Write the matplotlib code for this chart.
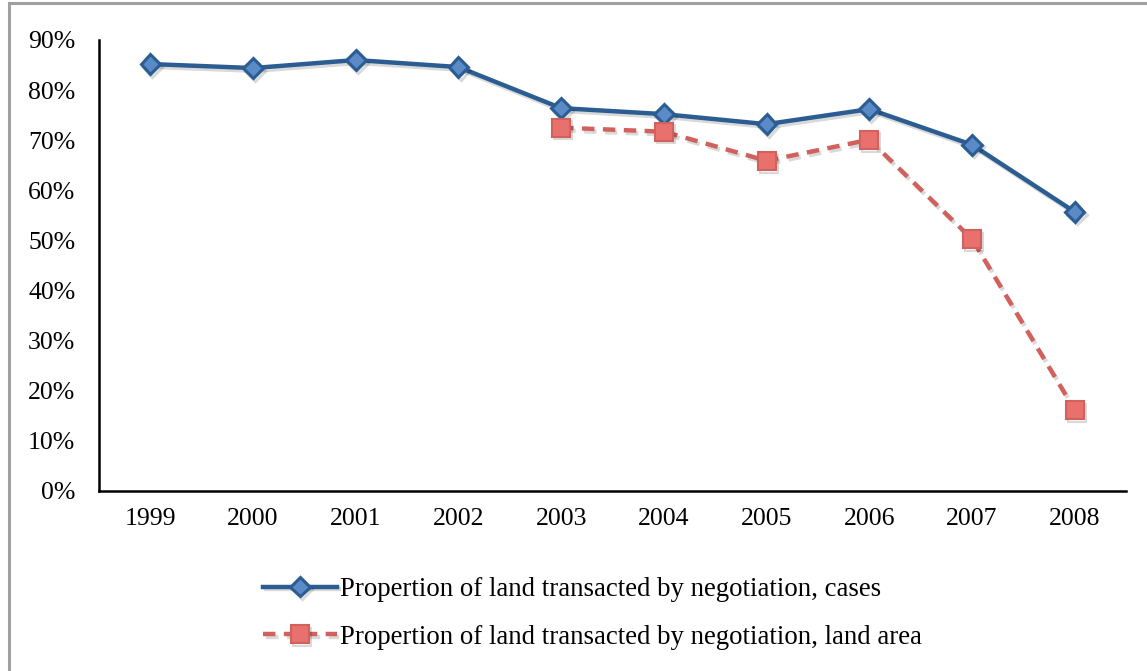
import matplotlib
matplotlib.use("Agg")
import matplotlib.pyplot as plt
import matplotlib.patheffects as pe
from matplotlib.lines import Line2D
from matplotlib.ticker import FuncFormatter

years = ["1999", "2000", "2001", "2002", "2003", "2004", "2005", "2006", "2007", "2008"]
cases = [85.2, 84.4, 86.0, 84.6, 76.4, 75.2, 73.2, 76.2, 69.1, 55.7]
area_years = ["2003", "2004", "2005", "2006", "2007", "2008"]
area = [72.5, 71.7, 65.9, 70.1, 50.3, 16.2]
labels = ["Propertion of land transacted by negotiation, cases",
          "Propertion of land transacted by negotiation, land area"]

plt.rcParams["font.family"] = ["Liberation Serif", "DejaVu Serif"]

fig = plt.figure(figsize=(11.47, 6.71), dpi=100)
ax = fig.add_axes([0.0863, 0.2683, 0.8954, 0.6721])

xi = range(len(years))
ax_idx = [years.index(y) for y in area_years]
shadow = [pe.SimpleLineShadow(offset=(1.5, -2), alpha=0.15, shadow_color="black"), pe.Normal()]

l1, = ax.plot(xi, cases, color="#2B5D93", lw=3.2, marker="D", ms=10,
              mfc="#5B8BC6", mec="#2B5D93", mew=2.2, label=labels[0], path_effects=shadow)
l2, = ax.plot(ax_idx, area, color="#D2605C", lw=3.2, ls=(0, (2.8, 1.9)), marker="s", ms=13,
              mfc="#E8716E", mec="#D2605C", mew=1.5, label=labels[1], path_effects=shadow)

ax.set_xlim(-0.5, len(years) - 0.5)
ax.set_ylim(0, 90)
ax.set_xticks(list(xi))
ax.set_xticklabels(years)
ax.set_yticks(range(0, 91, 10))
ax.yaxis.set_major_formatter(FuncFormatter(lambda v, p: f"{v:.0f}%"))
ax.tick_params(length=0, labelsize=18.5, pad=12)
ax.tick_params(axis="y", pad=17)
for s in ["top", "right"]:
    ax.spines[s].set_visible(False)
for s in ["left", "bottom"]:
    ax.spines[s].set_linewidth(1.8)

fig.legend(handles=[l1, l2], loc="upper left", bbox_to_anchor=(0.218, 0.16),
           frameon=False, fontsize=19.3, handlelength=2.75, handletextpad=0.1,
           labelspacing=0.85, borderpad=0)

# chart frame (left and top edges visible)
fig.add_artist(Line2D([0.0078, 0.0078], [0, 0.996], color="#A0A0A0", lw=2.2,
                      transform=fig.transFigure))
fig.add_artist(Line2D([0.0078, 1.0], [0.996, 0.996], color="#A0A0A0", lw=2.2,
                      transform=fig.transFigure))

fig.savefig("out.png", dpi=100)
